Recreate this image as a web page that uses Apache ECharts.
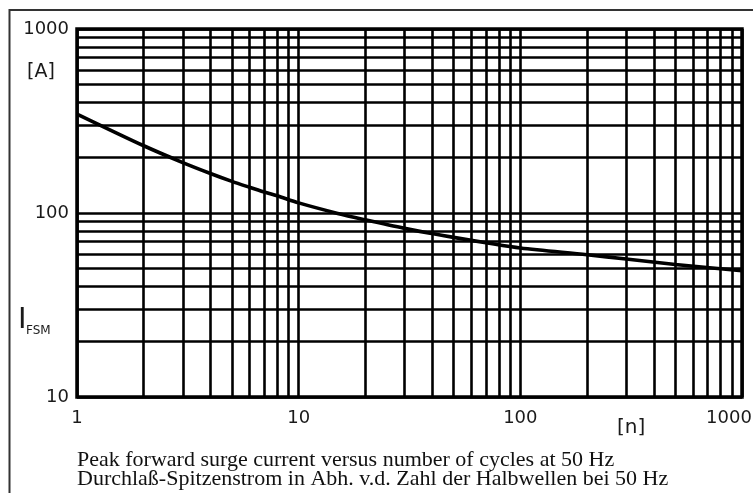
<!DOCTYPE html>
<html>
<head>
<meta charset="utf-8">
<script src="https://cdn.jsdelivr.net/npm/echarts@6/dist/echarts.min.js"></script>
<style>
  html, body { margin: 0; padding: 0; background: #fff; }
  #chart { width: 753px; height: 493px; }
</style>
</head>
<body>
<div id="chart"></div>
<script>
// Number of cycles n (x) and peak forward surge current I_FSM in A (y)
const cycles  = [1, 2, 3, 4, 5, 6, 7, 8, 10, 15, 20, 30, 40, 50, 70, 100, 200, 300, 500, 1000];
const current = [345, 232, 188, 164, 148.5, 138, 130, 124, 113.5, 99.5, 91.8, 82.5, 77.3, 73.7, 68.9, 64.5, 59.3, 56.2, 52.5, 48.5];

// Minor grid positions (log paper)
const xMinor = [2,3,4,5,6,7,8,9, 20,30,40,50,60,70,80,90, 200,300,400,500,600,700,800,900];
const yMinor = [20,30,40,50,60,70,80,90, 200,300,400,500,600,700,800,900];

const captionLine1 = 'Peak forward surge current versus number of cycles at 50 Hz';
const captionLine2 = 'Durchlaß-Spitzenstrom in Abh. v.d. Zahl der Halbwellen bei 50 Hz';

const chart = echarts.init(document.getElementById('chart'), null, { renderer: 'canvas' });

const gridLine = { color: '#000', width: 2.6, type: 'solid' };
const labelFont = { fontFamily: 'DejaVu Sans', fontSize: 18, color: '#1a1a1a' };

const option = {
  animation: false,
  backgroundColor: '#fff',
  grid: {
    left: 77, top: 29, right: 11, bottom: 96,
    show: true, borderColor: '#000', borderWidth: 3.5, backgroundColor: '#fff',
    containLabel: false, outerBoundsMode: 'none'
  },
  xAxis: {
    type: 'log', logBase: 10, min: 1, max: 1000,
    axisLine: { show: false }, axisTick: { show: false },
    splitLine: { show: true, lineStyle: gridLine },
    axisLabel: Object.assign({}, labelFont, {
      margin: 12,
      showMinLabel: true, showMaxLabel: true,
      formatter: v => (v >= 1000 ? '{r|' + Math.round(v) + '}' : '{n|' + Math.round(v) + '}'),
      rich: {
        n: Object.assign({}, labelFont),
        r: Object.assign({}, labelFont, { padding: [0, 26, 0, 0] })
      }
    })
  },
  yAxis: {
    type: 'log', logBase: 10, min: 10, max: 1000,
    axisLine: { show: false }, axisTick: { show: false },
    splitLine: { show: true, lineStyle: gridLine },
    axisLabel: Object.assign({}, labelFont, {
      margin: 8, showMinLabel: true, showMaxLabel: true,
      formatter: v => String(Math.round(v)),
      padding: [4, 0, 0, 0]
    })
  },
  series: [
    {
      type: 'line', name: 'grid', data: [], z: 1, silent: true,
      markLine: {
        silent: true, symbol: 'none', animation: false,
        label: { show: false },
        lineStyle: gridLine,
        emphasis: { disabled: true },
        data: xMinor.map(v => ({ xAxis: v })).concat(yMinor.map(v => ({ yAxis: v })))
      }
    },
    {
      type: 'line', name: 'IFSM', z: 5,
      data: cycles.map((n, i) => [n, current[i]]),
      smooth: 0.3, showSymbol: false, symbol: 'none',
      lineStyle: { color: '#000', width: 3.6 }
    }
  ],
  graphic: [
    { type: 'rect', z: -10, silent: true,
      shape: { x: 9.5, y: 10, width: 800, height: 600 },
      style: { fill: 'none', stroke: '#333', lineWidth: 2 } },
    { type: 'text', left: 27, top: 63, silent: true,
      style: { text: '[A]', fontFamily: 'DejaVu Sans', fontSize: 19, fill: '#1a1a1a' } },
    { type: 'text', left: 617, top: 418, silent: true,
      style: { text: '[n]', fontFamily: 'DejaVu Sans', fontSize: 20, fill: '#1a1a1a' } },
    { type: 'text', left: 18, top: 306, silent: true,
      style: { text: 'I', fontFamily: 'DejaVu Sans', fontSize: 29, fill: '#1a1a1a' } },
    { type: 'text', left: 26, top: 325, silent: true,
      style: { text: 'FSM', fontFamily: 'DejaVu Sans', fontSize: 12, fill: '#1a1a1a' } },
    { type: 'text', x: 77, y: 460, silent: true,
      style: { text: captionLine1, fontFamily: 'Liberation Serif', fontSize: 22, fill: '#111', verticalAlign: 'middle', align: 'left' } },
    { type: 'text', x: 77, y: 479, silent: true,
      style: { text: captionLine2, fontFamily: 'Liberation Serif', fontSize: 22, fill: '#111', verticalAlign: 'middle', align: 'left' } }
  ]
};

chart.setOption(option);
</script>
</body>
</html>
